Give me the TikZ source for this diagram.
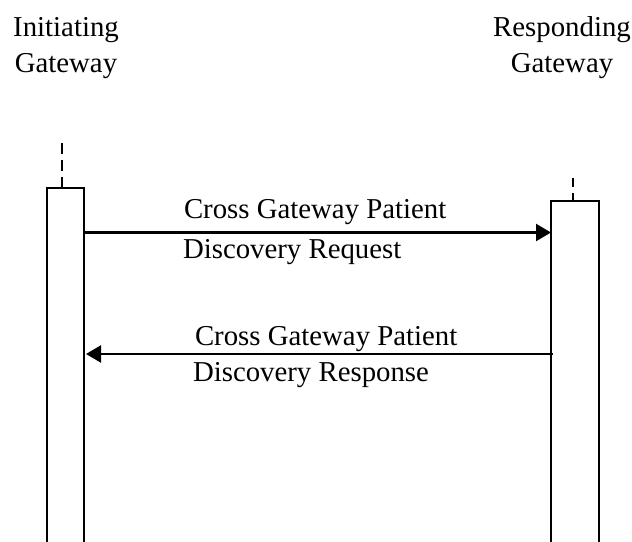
\documentclass[tikz,border=0pt]{standalone}
\usepackage{fontspec}
\setmainfont{Liberation Serif}
\usetikzlibrary{arrows.meta}
\begin{document}
\begin{tikzpicture}[x=1pt,y=-1pt,
  every node/.style={inner sep=0pt,outer sep=0pt,font=\fontsize{28.8}{34}\selectfont},
  lifebox/.style={draw,line width=2pt,minimum width=#1,anchor=north},
  head/.style={anchor=base,align=center},
  lbl/.style={anchor=base west},
  msg/.style={line width=2.3pt,-{Triangle[length=15pt,width=17pt]}},
  lifedash/.style={line width=2pt,dash pattern=on 11pt off 6pt}]
\useasboundingbox[fill=white] (0,0) rectangle (632,541);
% headers
\node[head] (h1a) at (66,36) {Initiating};
\node[head] (h1b) at (66,72) {Gateway};
\node[head] (h2a) at (562,36) {Responding};
\node[head] (h2b) at (562,72) {Gateway};
% lifeline boxes (bottom edge lies outside the page)
\node[lifebox=37pt,minimum height=380pt] (lbox) at (65.5,188) {};
\node[lifebox=48pt,minimum height=370pt] (rbox) at (575,201) {};
% dashed lifelines above the boxes
\coordinate (ltop) at (62,143);
\coordinate (rtop) at (573,178);
\draw[lifedash] (ltop) -- (ltop |- lbox.north);
\draw[lifedash,dash pattern=on 9pt off 6pt] (rtop) -- (rtop |- rbox.north);
% messages
\coordinate (m1) at (0,232.5);
\coordinate (m2) at (0,354);
\draw[msg] (lbox.east |- m1) -- (rbox.west |- m1);
\draw[msg] ([xshift=2pt]rbox.west |- m2) -- ([xshift=2pt]lbox.east |- m2);
% labels
\node[lbl] (l1a) at (184,218) {Cross Gateway Patient};
\node[lbl] (l1b) at (183,258) {Discovery Request};
\node[lbl] (l2a) at (195,345) {Cross Gateway Patient};
\node[lbl] (l2b) at (193,381) {Discovery Response};
\end{tikzpicture}
\end{document}
